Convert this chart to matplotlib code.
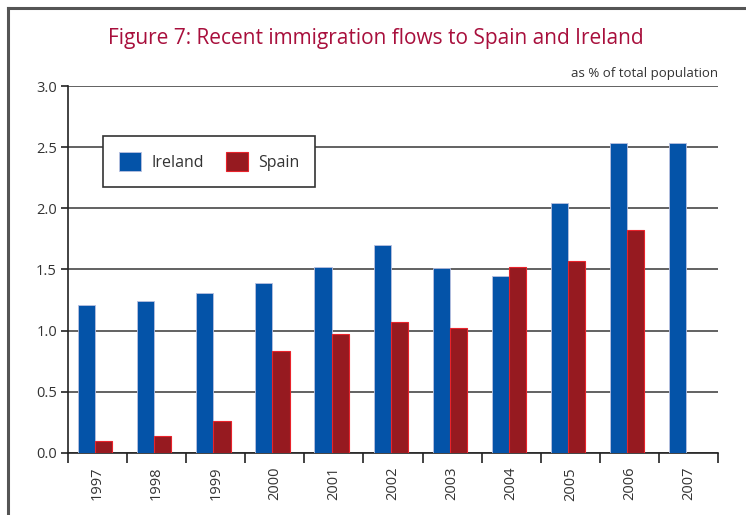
import matplotlib.pyplot as plt
import numpy as np

# data (% of total population)
years = ["1997", "1998", "1999", "2000", "2001", "2002", "2003", "2004", "2005", "2006", "2007"]
ireland = [1.21, 1.24, 1.31, 1.39, 1.52, 1.70, 1.51, 1.45, 2.04, 2.53, 2.53]
spain = [0.10, 0.14, 0.26, 0.83, 0.97, 1.07, 1.02, 1.52, 1.57, 1.82, np.nan]
yticks = [0.0, 0.5, 1.0, 1.5, 2.0, 2.5, 3.0]

plt.rcParams["font.family"] = ["Open Sans", "DejaVu Sans"]

fig = plt.figure(figsize=(7.46, 5.15), dpi=100)
ax = fig.add_axes([0.0912, 0.1204, 0.8713, 0.7126])

x = np.arange(len(years))
w = 0.29
ax.bar(x - w / 2 - 0.04, ireland, w, color="#0453a8", edgecolor="#b8c0e0", linewidth=0.6,
       label="Ireland", zorder=3)
ax.bar(x + w / 2 - 0.04, spain, w, color="#961a20", edgecolor="#e8232b", linewidth=0.8,
       label="Spain", zorder=3)

ax.set_xlim(-0.5, len(years) - 0.5)
ax.set_ylim(0, 3.0)
ax.set_yticks(yticks)
ax.set_yticklabels([f"{v:.1f}" for v in yticks])
ax.yaxis.grid(True, color="#555555", linewidth=1.3, zorder=0)
ax.set_axisbelow(True)

ax.set_xticks(x)
ax.set_xticklabels(years, rotation=90, fontsize=10.5, color="#333333")
ax.set_xticks(np.arange(-0.5, len(years), 1), minor=True)
ax.tick_params(axis="x", which="major", length=0, pad=10)
ax.tick_params(axis="x", which="minor", length=7, width=1.2, direction="out", color="#222222")
ax.tick_params(axis="y", length=5, width=1.2, color="#222222", labelsize=10.5,
               labelcolor="#333333", pad=3)

for s in ["top", "right"]:
    ax.spines[s].set_visible(False)
for s in ["left", "bottom"]:
    ax.spines[s].set_color("#222222")
    ax.spines[s].set_linewidth(1.2)

leg = ax.legend(loc="upper left", bbox_to_anchor=(0.054, 0.863), borderaxespad=0, ncol=2,
                fontsize=11.5, frameon=True, fancybox=False, borderpad=1.0,
                columnspacing=1.4, handlelength=1.4, handleheight=1.4, handletextpad=0.6,
                framealpha=1)
leg.get_frame().set_edgecolor("#333333")
leg.get_frame().set_linewidth(1.2)
for t in leg.get_texts():
    t.set_color("#333333")

fig.text(0.504, 0.925, "Figure 7: Recent immigration flows to Spain and Ireland",
         ha="center", va="center", fontsize=15, color="#a80f3c")
fig.text(0.9625, 0.858, "as % of total population", ha="right", va="center",
         fontsize=9.5, color="#333333")

# frame around the figure (open at right and bottom)
fig.add_artist(plt.Line2D([0.0107, 1.0], [0.984, 0.984], color="#555555", linewidth=2.2))
fig.add_artist(plt.Line2D([0.0107, 0.0107], [0.0, 0.984], color="#555555", linewidth=2.2))

fig.savefig("out.png", dpi=100)
